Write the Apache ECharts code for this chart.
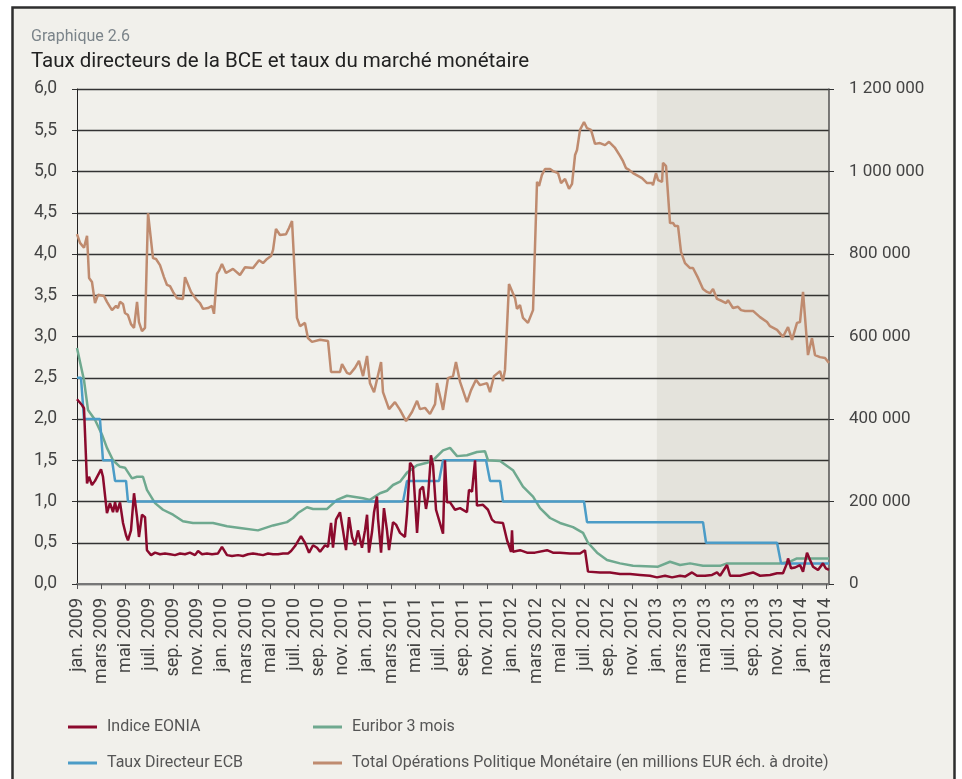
<!DOCTYPE html>
<html>
<head>
<meta charset="utf-8" />
<title>Graphique 2.6</title>
<script src="https://cdn.jsdelivr.net/npm/echarts@6/dist/echarts.min.js"></script>
<style>
  html, body { margin: 0; padding: 0; background: #fff; }
  #chart { width: 962px; height: 779px; }
</style>
</head>
<body>
<div id="chart"></div>
<script>
// x values are months counted from jan. 2009
var monthNames = ['jan.', 'févr.', 'mars', 'avr.', 'mai', 'juin', 'juil.', 'août', 'sep.', 'oct.', 'nov.', 'déc.'];

var eoniaMonth = [0, 0.41, 0.58, 0.83, 0.99, 1.24, 1.49, 1.99, 2.15, 2.48, 2.73, 2.98, 3.15, 3.31, 3.56, 3.81, 4.06, 4.22, 4.47, 4.72, 4.97, 5.13, 5.38, 5.63, 5.79, 6.13, 6.46,
  6.87, 7.28, 7.7, 8.11, 8.53, 8.94, 9.35, 9.77, 10.02, 10.35, 10.76, 11.18, 11.67, 12.0, 12.42, 12.83, 13.33, 13.74, 14.16, 14.57, 14.98, 15.4, 15.81, 16.23, 16.64, 17.05, 17.47, 17.72,
  18.05, 18.54, 18.87, 19.21, 19.54, 19.87, 20.12, 20.53, 20.78, 21.03, 21.19, 21.44, 21.77, 22.02, 22.27, 22.52, 22.77, 23.01, 23.26, 23.59, 23.84, 24.01, 24.17, 24.42, 24.59, 24.83, 24.92,
  25.17, 25.41, 25.66, 25.83, 26.16, 26.41, 26.74, 27.15, 27.32, 27.57, 27.81, 27.98, 28.15, 28.39, 28.64, 28.89, 29.06, 29.3, 29.47, 29.72, 29.88, 30.3, 30.46, 30.63, 30.88, 31.29, 31.71,
  32.28, 32.45, 32.7, 32.95, 33.11, 33.61, 34.02, 34.35, 34.6, 35.26, 35.6, 35.93, 36.01, 36.09, 36.67, 37.25, 37.91, 38.91, 39.4, 39.98, 40.81, 41.64, 42.05, 42.3, 43.29, 44.12, 44.95,
  45.78, 46.61, 47.43, 48.01, 48.68, 49.26, 49.92, 50.33, 50.91, 51.32, 51.99, 52.57, 52.98, 53.23, 53.81, 54.06, 54.88, 55.96, 56.54, 57.37, 57.95, 58.44, 58.77, 58.86, 59.11, 59.44,
  59.85, 60.1, 60.43, 60.68, 60.93, 61.34, 61.75, 61.99, 62.25];
var eoniaRate = [2.24, 2.17, 2.13, 1.22, 1.30, 1.20, 1.25, 1.39, 1.30, 0.86, 0.98, 0.87, 0.99, 0.87, 0.99, 0.74, 0.59, 0.53, 0.65, 1.10, 0.81, 0.57, 0.84, 0.81, 0.41, 0.35, 0.38,
  0.36, 0.37, 0.36, 0.35, 0.37, 0.36, 0.38, 0.35, 0.40, 0.36, 0.37, 0.36, 0.37, 0.45, 0.35, 0.34, 0.35, 0.34, 0.36, 0.37, 0.36, 0.35, 0.37, 0.36, 0.36, 0.37, 0.37, 0.40,
  0.46, 0.58, 0.50, 0.38, 0.47, 0.44, 0.39, 0.47, 0.45, 0.74, 0.44, 0.78, 0.87, 0.65, 0.41, 0.81, 0.57, 0.47, 0.65, 0.44, 0.65, 0.84, 0.38, 0.63, 0.87, 1.06, 0.79,
  0.38, 0.92, 0.65, 0.41, 0.75, 0.72, 0.62, 0.57, 0.86, 1.47, 1.42, 1.02, 0.62, 1.14, 1.18, 0.91, 1.06, 1.56, 1.44, 0.90, 0.92, 0.61, 1.50, 0.99, 0.99, 0.90, 0.92,
  0.87, 1.14, 1.12, 1.50, 0.95, 0.96, 0.90, 0.78, 0.75, 0.74, 0.53, 0.39, 0.65, 0.39, 0.41, 0.38, 0.38, 0.41, 0.38, 0.38, 0.37, 0.37, 0.41, 0.15, 0.14, 0.14, 0.12,
  0.12, 0.11, 0.10, 0.08, 0.10, 0.08, 0.10, 0.09, 0.14, 0.10, 0.10, 0.11, 0.14, 0.10, 0.23, 0.10, 0.10, 0.14, 0.10, 0.11, 0.13, 0.13, 0.25, 0.31, 0.19, 0.20,
  0.23, 0.15, 0.38, 0.29, 0.21, 0.17, 0.25, 0.19, 0.17];

var euriborMonth = [0, 0.58, 0.91, 1.49, 2.07, 2.48, 2.98, 3.56, 3.97, 4.55, 4.97, 5.46, 5.79, 6.46, 7.12, 7.95, 8.77, 9.6, 11.26, 12.42, 13.49, 14.98, 16.23, 17.38, 17.88, 18.29,
  19.04, 19.54, 20.7, 21.52, 22.35, 23.68, 24.25, 25.08, 25.66, 26.16, 26.74, 27.32, 28.15, 28.97, 29.47, 30.3, 30.88, 31.46, 32.28, 33.11, 33.77, 34.02, 35.02, 36.09, 36.92,
  37.75, 38.33, 39.16, 39.98, 41.06, 41.89, 42.3, 43.05, 43.87, 44.95, 46.03, 48.1, 49.09, 49.92, 50.75, 51.82, 53.23, 53.81, 58.2, 59.02, 59.6, 62.25];
var euriborRate = [2.86, 2.47, 2.11, 1.99, 1.81, 1.65, 1.50, 1.42, 1.41, 1.28, 1.30, 1.30, 1.14, 0.98, 0.90, 0.84, 0.76, 0.74, 0.74, 0.70, 0.68, 0.65, 0.71, 0.75, 0.80, 0.86,
  0.93, 0.91, 0.91, 1.02, 1.07, 1.04, 1.02, 1.10, 1.13, 1.20, 1.24, 1.35, 1.44, 1.47, 1.50, 1.62, 1.65, 1.55, 1.56, 1.60, 1.61, 1.50, 1.49, 1.38, 1.18,
  1.06, 0.92, 0.80, 0.74, 0.69, 0.62, 0.50, 0.38, 0.29, 0.25, 0.22, 0.21, 0.27, 0.23, 0.25, 0.22, 0.22, 0.25, 0.25, 0.27, 0.31, 0.31];

var policyMonth = [0, 0.33, 0.58, 1.9, 2.15, 2.9, 3.15, 4.06, 4.22, 26.99, 27.32, 29.97, 30.3, 33.86, 34.19, 35.02, 35.26, 41.97, 42.22, 51.82, 52.07, 57.95, 58.28, 62.25];
var policyRate = [2.5, 2.5, 2.0, 2.0, 1.5, 1.5, 1.25, 1.25, 1.0, 1.0, 1.25, 1.25, 1.5, 1.5, 1.25, 1.25, 1.0, 1.0, 0.75, 0.75, 0.5, 0.5, 0.25, 0.25];

var totalMonth = [0, 0.25, 0.58, 0.83, 1.0, 1.24, 1.49, 1.74, 2.24, 2.48, 2.73, 2.9, 3.23, 3.39, 3.56, 3.81, 3.97, 4.22, 4.47, 4.72, 4.97, 5.13, 5.38, 5.63, 5.88, 6.29, 6.54,
  6.87, 7.2, 7.45, 7.7, 7.95, 8.28, 8.77, 8.94, 9.44, 9.6, 9.93, 10.18, 10.43, 10.84, 11.18, 11.34, 11.59, 11.75, 12.0, 12.33, 12.91, 13.49, 13.91, 14.57, 15.07, 15.4, 15.73,
  16.06, 16.23, 16.47, 16.8, 17.3, 17.55, 17.8, 18.21, 18.46, 18.87, 19.12, 19.45, 20.12, 20.78, 21.03, 21.19, 21.77, 21.94, 22.35, 22.6, 23.01, 23.34, 23.68, 24.01, 24.25,
  24.59, 24.83, 25.17, 25.33, 25.83, 26.32, 26.74, 27.24, 27.73, 28.15, 28.39, 28.81, 29.22, 29.64, 29.8, 30.22, 30.3, 30.71, 31.13, 31.37, 31.71, 32.28, 32.62, 33.03, 33.36,
  33.94, 34.19, 34.52, 35.02, 35.26, 35.43, 35.76, 36.26, 36.42, 36.67, 36.92, 37.33, 37.75, 38.08, 38.25, 38.49, 38.74, 39.16, 39.4, 39.82, 40.07, 40.4, 40.56, 40.73, 40.98,
  41.23, 41.39, 41.64, 41.97, 42.22, 42.55, 42.88, 43.29, 43.71, 44.04, 44.54, 44.95, 45.2, 45.45, 45.7, 46.03, 46.77, 47.19, 47.6, 47.68, 47.93, 48.1, 48.43, 48.51, 48.76,
  49.09, 49.34, 49.5, 49.75, 50.0, 50.33, 50.75, 50.99, 51.41, 51.82, 52.15, 52.4, 52.65, 52.98, 53.39, 53.73, 53.89, 54.3, 54.72, 54.97, 55.3, 55.96, 56.54, 57.12, 57.37,
  57.95, 58.44, 58.86, 59.19, 59.6, 59.85, 60.1, 60.51, 60.84, 61.09, 61.51, 61.92, 62.25];
var totalValue = [848000, 827000, 815000, 844000, 742000, 732000, 681000, 701000, 698000, 684000, 672000, 664000, 674000, 669000, 684000, 679000, 657000, 652000, 630000, 621000, 684000, 635000, 613000, 621000, 899000, 790000, 788000,
  773000, 744000, 725000, 722000, 708000, 693000, 691000, 744000, 708000, 701000, 688000, 681000, 667000, 669000, 674000, 655000, 752000, 759000, 776000, 754000, 764000, 749000, 768000, 766000, 785000, 778000, 788000,
  795000, 810000, 861000, 846000, 848000, 863000, 880000, 645000, 625000, 633000, 596000, 587000, 592000, 589000, 514000, 512000, 514000, 533000, 512000, 509000, 524000, 541000, 504000, 553000, 487000,
  465000, 495000, 538000, 465000, 424000, 441000, 422000, 395000, 417000, 444000, 424000, 427000, 412000, 436000, 487000, 434000, 422000, 499000, 504000, 538000, 490000, 441000, 470000, 495000, 482000,
  487000, 465000, 504000, 516000, 492000, 519000, 727000, 693000, 667000, 676000, 645000, 633000, 664000, 975000, 965000, 992000, 1006000, 1006000, 1001000, 996000, 972000, 982000, 982000, 958000, 970000,
  1040000, 1052000, 1101000, 1120000, 1105000, 1101000, 1067000, 1069000, 1064000, 1072000, 1057000, 1038000, 1025000, 1008000, 1004000, 996000, 984000, 972000, 972000, 967000, 996000, 979000, 975000, 1021000, 1013000,
  875000, 875000, 868000, 868000, 805000, 778000, 766000, 766000, 742000, 715000, 708000, 705000, 715000, 691000, 686000, 681000, 688000, 669000, 672000, 664000, 662000, 662000, 647000, 635000, 625000,
  616000, 599000, 623000, 592000, 633000, 635000, 708000, 555000, 596000, 555000, 550000, 548000, 536000];

var shadedFrom = 48; // jan. 2013

function pairs(xs, ys) {
  var out = [];
  for (var i = 0; i < xs.length; i++) out.push([xs[i], ys[i]]);
  return out;
}

var font = 'Roboto, "DejaVu Sans", sans-serif';
var chart = echarts.init(document.getElementById('chart'));

function legendItem(name, left, top) {
  return {
    data: [name],
    left: left,
    top: top,
    icon: 'rect',
    itemWidth: 29,
    itemHeight: 3,
    selectedMode: false,
    textStyle: { fontFamily: font, fontSize: 16, color: '#555', padding: [0, 0, 0, 5] }
  };
}

chart.setOption({
  backgroundColor: '#fff',
  animation: false,
  graphic: [{
    type: 'rect',
    z: -10,
    shape: { x: 12.5, y: 7.5, width: 942, height: 800 },
    style: { fill: '#f1f0eb', stroke: '#2e2e2e', lineWidth: 2.5 }
  }],
  title: [{
    text: 'Graphique 2.6',
    left: 26, top: 24,
    textStyle: { fontFamily: font, fontSize: 16, fontWeight: 'normal', color: '#7b848a' }
  }, {
    text: 'Taux directeurs de la BCE et taux du marché monétaire',
    left: 26, top: 46,
    textStyle: { fontFamily: font, fontSize: 20.5, fontWeight: 'normal', color: '#222' }
  }],
  legend: [
    legendItem('Indice EONIA', 63, 714),
    legendItem('Euribor 3 mois', 308, 714),
    legendItem('Taux Directeur ECB', 63, 750),
    legendItem('Total Opérations Politique Monétaire (en millions EUR éch. à droite)', 308, 750)
  ],
  grid: { left: 77, right: 133, top: 89, bottom: 195 },
  xAxis: {
    type: 'value',
    min: 0,
    max: 62.25,
    interval: 2,
    axisLine: { lineStyle: { color: '#777', width: 2 } },
    axisTick: { length: 5, lineStyle: { color: '#555' } },
    splitLine: { show: false },
    axisLabel: {
      rotate: 90,
      margin: 14,
      fontFamily: font,
      fontSize: 18,
      color: '#444',
      showMaxLabel: false,
      formatter: function (v) {
        if (Math.abs(v - Math.round(v)) > 1e-6 || Math.round(v) % 2) return '';
        var m = Math.round(v);
        return monthNames[m % 12] + ' ' + (2009 + Math.floor(m / 12));
      }
    }
  },
  yAxis: [{
    type: 'value',
    min: 0,
    max: 6,
    interval: 0.5,
    axisLine: { show: true, lineStyle: { color: '#222', width: 1 } },
    axisTick: { show: true, length: 5, lineStyle: { color: '#333' } },
    splitLine: { lineStyle: { color: '#333', width: 1.3 } },
    axisLabel: {
      margin: 20,
      fontFamily: font,
      fontSize: 17.5,
      color: '#444',
      formatter: function (v) { return v.toFixed(1).replace('.', ','); }
    }
  }, {
    type: 'value',
    min: 0,
    max: 1200000,
    interval: 200000,
    position: 'right',
    axisLine: { show: true, lineStyle: { color: '#555', width: 1.5 } },
    axisTick: { show: true, length: 5, lineStyle: { color: '#333' } },
    splitLine: { show: false },
    axisLabel: {
      margin: 20,
      fontFamily: font,
      fontSize: 17,
      color: '#444',
      formatter: function (v) { return String(v).replace(/\B(?=(\d{3})+(?!\d))/g, ' '); }
    }
  }],
  series: [{
    name: 'Total Opérations Politique Monétaire (en millions EUR éch. à droite)',
    type: 'line',
    yAxisIndex: 1,
    data: pairs(totalMonth, totalValue),
    showSymbol: false,
    lineStyle: { color: '#bf8b6f', width: 2.5 },
    itemStyle: { color: '#bf8b6f' },
    markArea: {
      silent: true,
      itemStyle: { color: 'rgba(60,55,30,0.07)' },
      data: [[{ xAxis: shadedFrom }, { xAxis: 62.25 }]]
    }
  }, {
    name: 'Euribor 3 mois',
    type: 'line',
    data: pairs(euriborMonth, euriborRate),
    showSymbol: false,
    lineStyle: { color: '#6fa98f', width: 2.5 },
    itemStyle: { color: '#6fa98f' }
  }, {
    name: 'Taux Directeur ECB',
    type: 'line',
    data: pairs(policyMonth, policyRate),
    showSymbol: false,
    lineStyle: { color: '#4b9cc7', width: 2.5 },
    itemStyle: { color: '#4b9cc7' }
  }, {
    name: 'Indice EONIA',
    type: 'line',
    data: pairs(eoniaMonth, eoniaRate),
    showSymbol: false,
    lineStyle: { color: '#8b0a2d', width: 2.5 },
    itemStyle: { color: '#8b0a2d' }
  }]
});
</script>
</body>
</html>
